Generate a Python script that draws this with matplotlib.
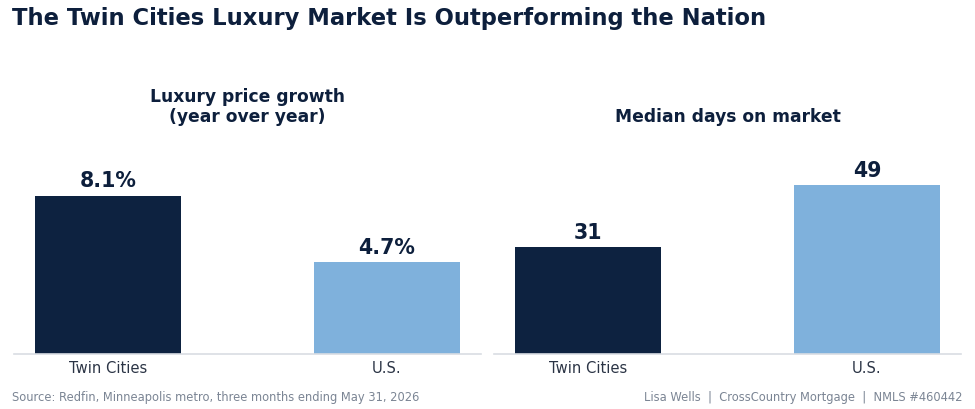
import matplotlib.pyplot as plt

# data
places = ["Twin Cities", "U.S."]
price_growth = [8.1, 4.7]
days_on_market = [31, 49]

navy = "#0d2240"
light = "#7fb1dc"
text_col = "#0d1f3c"
gray = "#7b8594"

W, H = 975, 409
fig = plt.figure(figsize=(9.75, 4.09), dpi=100)


def px_axes(x0, x1, y_top, y_base):
    return fig.add_axes([x0 / W, 1 - y_base / H, (x1 - x0) / W, (y_base - y_top) / H])


def bar_panel(ax, vals, title, fmt, ytop):
    ax.bar([0, 1], vals, width=0.52, color=[navy, light])
    ax.set_xlim(-0.337, 1.337)
    ax.set_ylim(0, ytop)
    for i, v in enumerate(vals):
        ax.text(i, v + ytop * 0.02, fmt.format(v), ha="center", va="bottom",
                fontsize=14.8, fontweight="bold", color=text_col)
    ax.set_xticks([0, 1])
    ax.set_xticklabels(places, fontsize=10.6, color="#2b3445")
    ax.tick_params(axis="x", length=0, pad=5)
    ax.set_yticks([])
    for s in ["top", "right", "left"]:
        ax.spines[s].set_visible(False)
    ax.spines["bottom"].set_color("#d9dde3")
    ax.spines["bottom"].set_linewidth(1.2)
    ax.set_title(title, fontsize=12.3, fontweight="bold", color=text_col, pad=9)


ax1 = px_axes(14, 481, 135, 354)
bar_panel(ax1, price_growth, "Luxury price growth\n(year over year)", "{:.1f}%", 11.2)

ax2 = px_axes(494, 961, 135, 354)
bar_panel(ax2, days_on_market, "Median days on market", "{:d}", 63.5)

fig.text(12 / W, 1 - 18 / H, "The Twin Cities Luxury Market Is Outperforming the Nation",
         fontsize=16.25, fontweight="bold", color=text_col, ha="left", va="center")
fig.text(12 / W, 1 - 397 / H, "Source: Redfin, Minneapolis metro, three months ending May 31, 2026",
         fontsize=8.3, color=gray, ha="left", va="center")
fig.text(963 / W, 1 - 397 / H, "Lisa Wells  |  CrossCountry Mortgage  |  NMLS #460442",
         fontsize=8.3, color=gray, ha="right", va="center")

fig.savefig("out.png", dpi=100)
